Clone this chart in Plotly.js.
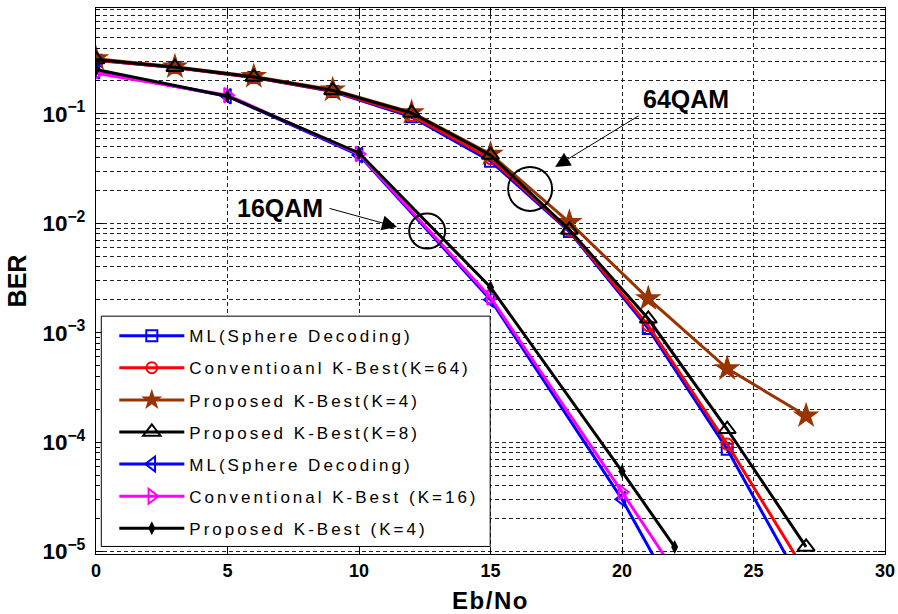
<!DOCTYPE html>
<html>
<head>
<meta charset="utf-8">
<script src="https://cdn.plot.ly/plotly-3.0.1.min.js"></script>
<style>
  html, body { margin: 0; padding: 0; background: #fff; }
  #chart { width: 898px; height: 614px; }
  .legendtext { letter-spacing: 3px; }
  .xtitle { letter-spacing: 1.5px; }
</style>
</head>
<body>
<div id="chart"></div>
<script>
// Eb/No sample points (dB)
const ebno64 = [0, 3, 6, 9, 12, 15, 18, 21, 24, 27];
const ebno16 = [0, 5, 10, 15, 20, 22];

// 64QAM bit error rates
const ber64ML    = [0.31, 0.265, 0.215, 0.160, 0.094, 0.037, 0.0084, 0.00109, 8.6e-5, 4.3e-6];
const ber64Conv  = [0.31, 0.265, 0.215, 0.162, 0.097, 0.039, 0.0086, 0.00116, 9.6e-5, 6.4e-6];
const ber64Prop4 = [0.32, 0.270, 0.220, 0.166, 0.103, 0.043, 0.0102, 0.00205, 4.7e-4, 1.74e-4];
const ber64Prop8 = [0.315, 0.267, 0.217, 0.164, 0.102, 0.042, 0.0087, 0.00134, 1.31e-4, 1.1e-5];

// 16QAM bit error rates
const ber16ML    = [0.245, 0.145, 0.042, 0.0020, 3.0e-5, 4.1e-6];
const ber16Conv  = [0.235, 0.148, 0.043, 0.0021, 3.5e-5, 6.6e-6];
const ber16Prop4 = [0.255, 0.145, 0.044, 0.0026, 5.4e-5, 1.1e-5];

const seriesNames = [
  'ML(Sphere Decoding)',
  'Conventioanl K-Best(K=64)',
  'Proposed K-Best(K=4)',
  'Proposed K-Best(K=8)',
  'ML(Sphere Decoding)',
  'Conventional K-Best (K=16)',
  'Proposed K-Best (K=4)'
];

const FONT = 'Liberation Sans, Arial, Helvetica, sans-serif';

function curve(i, x, y, color, symbol, size, lineW) {
  return {
    type: 'scatter', mode: 'lines+markers',
    x: x, y: y, name: seriesNames[i], legendgroup: 'g' + i,
    line: { color: color, width: 3 },
    marker: { symbol: symbol, size: size, color: color, line: { color: color, width: lineW } },
    cliponaxis: true
  };
}

const traces = [
  curve(0, ebno64, ber64ML,    '#0000ff', 'square-open',         11, 2),
  curve(1, ebno64, ber64Conv,  '#ff0000', 'circle-open',         11, 2),
  curve(2, ebno64, ber64Prop4, '#993300', 'star',                20, 0),
  curve(3, ebno64, ber64Prop8, '#000000', 'triangle-up-open',    15, 2),
  curve(4, ebno16, ber16ML,    '#0000ff', 'triangle-left-open',  13, 2),
  curve(5, ebno16, ber16Conv,  '#ff00ff', 'triangle-right-open', 13, 2),
  curve(6, ebno16, ber16Prop4, '#000000', 'diamond-tall',        10, 0)
];

const gridDash = '4px,3px';
const titleFont = (s) => ({ family: FONT, size: s, weight: 'bold', color: '#000' });

const layout = {
  width: 898, height: 614,
  margin: { l: 96, r: 13, t: 8, b: 60, pad: 0 },
  paper_bgcolor: '#fff', plot_bgcolor: '#fff',
  font: { family: FONT, color: '#000' },
  showlegend: true,
  xaxis: {
    range: [0, 30], dtick: 5, tick0: 0,
    showline: true, linecolor: '#000', linewidth: 1, mirror: 'ticks',
    ticks: 'inside', ticklen: 7, tickcolor: '#000',
    showgrid: true, gridcolor: '#222', griddash: gridDash, gridwidth: 1,
    zeroline: false,
    tickfont: titleFont(18),
    ticklabelstandoff: 0,
    title: { text: 'Eb/No', font: titleFont(24), standoff: 15 }
  },
  yaxis: {
    type: 'log', range: [-5.023, -0.032], dtick: 1,
    exponentformat: 'power',
    showline: true, linecolor: '#000', linewidth: 1, mirror: 'ticks',
    ticks: 'inside', ticklen: 7, tickcolor: '#000',
    showgrid: true, gridcolor: '#222', griddash: gridDash, gridwidth: 1,
    minor: { dtick: 'D1', showgrid: true, gridcolor: '#222', griddash: gridDash, gridwidth: 1,
             ticks: 'inside', ticklen: 4, tickcolor: '#000' },
    zeroline: false,
    tickfont: titleFont(18),
    ticklabelstandoff: 6,
    title: { text: 'BER', font: titleFont(25), standoff: 8 }
  },
  legend: {
    x: 0.0232, y: 0.432, xanchor: 'left', yanchor: 'top',
    bgcolor: 'rgba(0,0,0,0)', borderwidth: 0,
    font: { family: FONT, size: 17, color: '#000' },
    itemwidth: 65, tracegroupgap: 7, traceorder: 'grouped'
  },
  shapes: [
    // legend frame; it covers the grid, and no curve passes through it
    { type: 'rect', xref: 'paper', yref: 'paper', layer: 'above',
      x0: 0.0067, x1: 0.4996, y0: 0.0138, y1: 0.4356,
      fillcolor: '#fff', line: { color: '#000', width: 1 } },
    { type: 'circle', xref: 'paper', yref: 'paper', xsizemode: 'pixel', ysizemode: 'pixel',
      xanchor: 0.5502, yanchor: 0.6686, x0: -22, x1: 22, y0: -22, y1: 22,
      line: { color: '#000', width: 2 } },
    { type: 'circle', xref: 'paper', yref: 'paper', xsizemode: 'pixel', ysizemode: 'pixel',
      xanchor: 0.4197, yanchor: 0.5915, x0: -18, x1: 18, y0: -17.5, y1: 17.5,
      line: { color: '#000', width: 2 } }
  ],
  annotations: [
    { xref: 'paper', yref: 'paper', x: 0.5819, y: 0.7089, ax: 85, ay: -52, text: '',
      showarrow: true, arrowhead: 2, arrowsize: 3, arrowwidth: 1, arrowcolor: '#000', standoff: 0 },
    { xref: 'paper', yref: 'paper', x: 0.3815, y: 0.5989, ax: -69, ay: -19, text: '',
      showarrow: true, arrowhead: 2, arrowsize: 3, arrowwidth: 1, arrowcolor: '#000', standoff: 0 },
    { xref: 'paper', yref: 'paper', x: 0.7479, y: 0.8336, text: '64QAM', showarrow: false,
      xanchor: 'center', yanchor: 'middle', font: titleFont(25) },
    { xref: 'paper', yref: 'paper', x: 0.2332, y: 0.6337, text: '16QAM', showarrow: false,
      xanchor: 'center', yanchor: 'middle', font: titleFont(25) }
  ]
};

Plotly.newPlot('chart', traces, layout, { displayModeBar: false, staticPlot: true });
</script>
</body>
</html>
